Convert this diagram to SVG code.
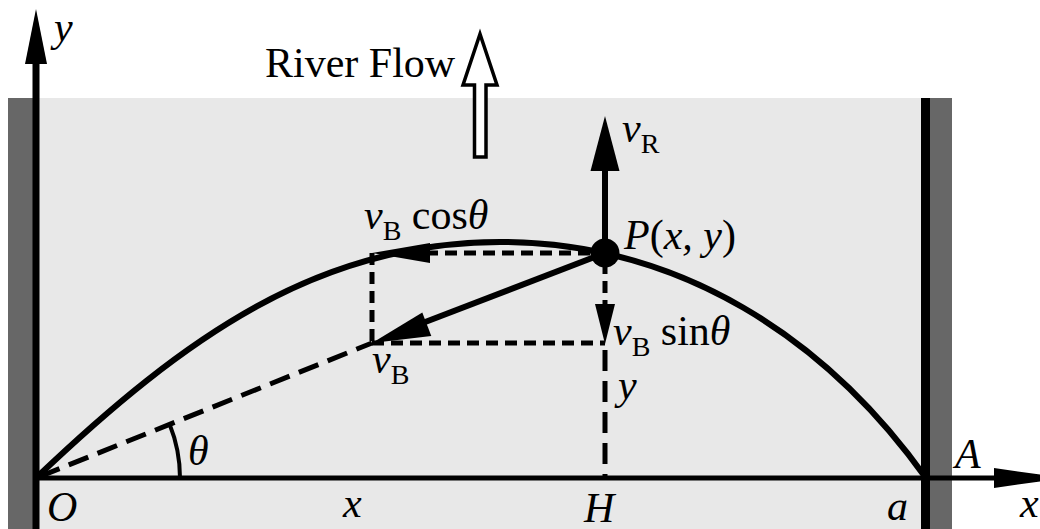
<svg xmlns="http://www.w3.org/2000/svg" width="1040" height="529" viewBox="0 0 1040 529">
  <style>
    .t { font-family: "Liberation Serif", "Times New Roman", serif; font-size: 42px; fill: #000; }
    .i { font-style: italic; }
    .sub { font-size: 28px; font-style: normal; }
    .dash { fill: none; stroke: #000; stroke-width: 5; stroke-dasharray: 12 7; }
    .dashL { fill: none; stroke: #000; stroke-width: 5; stroke-dasharray: 21 10; }
    .solid { fill: none; stroke: #000; stroke-width: 6; }
    .head { fill: #000; stroke: none; }
  </style>

  <rect x="0" y="0" width="1040" height="529" fill="#ffffff"/>

  <!-- river -->
  <g id="river">
    <rect x="8" y="98" width="944" height="431" fill="#e8e8e8"/>
    <rect x="8" y="98" width="26" height="431" fill="#676767"/>
    <rect x="926" y="98" width="26" height="431" fill="#676767"/>
    <rect x="921" y="98" width="9" height="431" fill="#000"/>
  </g>

  <!-- axes -->
  <g id="y-axis">
    <rect x="32.5" y="60" width="7" height="469" fill="#000"/>
    <polygon class="head" points="36,9 25,64 47,64"/>
    <text class="t i" x="54" y="41">y</text>
  </g>
  <g id="x-axis">
    <line x1="36" y1="478" x2="1000" y2="478" stroke="#000" stroke-width="5"/>
    <polygon class="head" points="994,468 1064,478 994,488"/>
    <text class="t i" x="1020" y="517">x</text>
  </g>

  <!-- river flow -->
  <g id="river-flow">
    <text class="t" x="265" y="77">River Flow</text>
    <polygon points="480,34 463,85 474.5,85 474.5,157 486,157 486,85 497,85" fill="#ffffff" stroke="#000" stroke-width="3.5" stroke-linejoin="miter"/>
  </g>

  <!-- connectors -->
  <g id="connectors">
    <!-- trajectory -->
    <path class="solid" stroke-width="5" d="M36,478 C186,335 320,242 500,242 C680,242 826,338 926,478"/>
    <!-- line of sight O to vB tip -->
    <line class="dashL" x1="40" y1="476.5" x2="372" y2="343"/>
    <!-- component rectangle -->
    <line class="dash" x1="372" y1="253" x2="372" y2="343"/>
    <line class="dash" x1="372" y1="343" x2="605" y2="343"/>
    <line class="dash" x1="590" y1="253" x2="428" y2="253"/>
    <!-- vertical from P to H -->
    <line class="dash" x1="605" y1="262" x2="605" y2="305"/>
    <line class="dashL" x1="605" y1="350" x2="605" y2="478"/>
    <!-- angle arc -->
    <path d="M180,478 A144,144 0 0 0 169.6,424.3" fill="none" stroke="#000" stroke-width="4"/>
    <!-- vR arrow -->
    <line class="solid" x1="605" y1="253" x2="605" y2="166"/>
    <polygon class="head" points="605,116 590.5,171 619.5,171"/>
    <!-- vB arrow -->
    <line class="solid" x1="605" y1="253" x2="420" y2="324"/>
    <polygon class="head" points="372,343 422.3,312.5 431.3,336"/>
    <!-- vB cos arrow head -->
    <polygon class="head" points="372,253 430,243 430,263"/>
    <!-- vB sin arrow head -->
    <polygon class="head" points="605,344 595,304 615,304"/>
  </g>

  <!-- point P -->
  <g id="point-P">
    <circle cx="605" cy="253" r="14.5" fill="#000"/>
    <text class="t i" x="624" y="249">P<tspan font-style="normal">(</tspan>x, y<tspan font-style="normal">)</tspan></text>
  </g>

  <!-- labels -->
  <g id="labels">
    <text class="t" x="622" y="142"><tspan class="i">v</tspan><tspan class="sub" dy="11">R</tspan></text>
    <text class="t" x="364" y="229"><tspan class="i">v</tspan><tspan class="sub" dy="11">B</tspan><tspan dy="-11"> cos</tspan><tspan class="i">θ</tspan></text>
    <text class="t" x="372" y="373"><tspan class="i">v</tspan><tspan class="sub" dy="11">B</tspan></text>
    <text class="t" x="613" y="345"><tspan class="i">v</tspan><tspan class="sub" dy="11">B</tspan><tspan dy="-11"> sin</tspan><tspan class="i">θ</tspan></text>
    <text class="t i" x="618" y="399">y</text>
    <text class="t i" x="188" y="465">θ</text>
    <text class="t i" x="47" y="521">O</text>
    <text class="t i" x="343" y="517">x</text>
    <text class="t i" x="584" y="522">H</text>
    <text class="t i" x="887" y="520">a</text>
    <text class="t i" x="955" y="468">A</text>
  </g>
</svg>
